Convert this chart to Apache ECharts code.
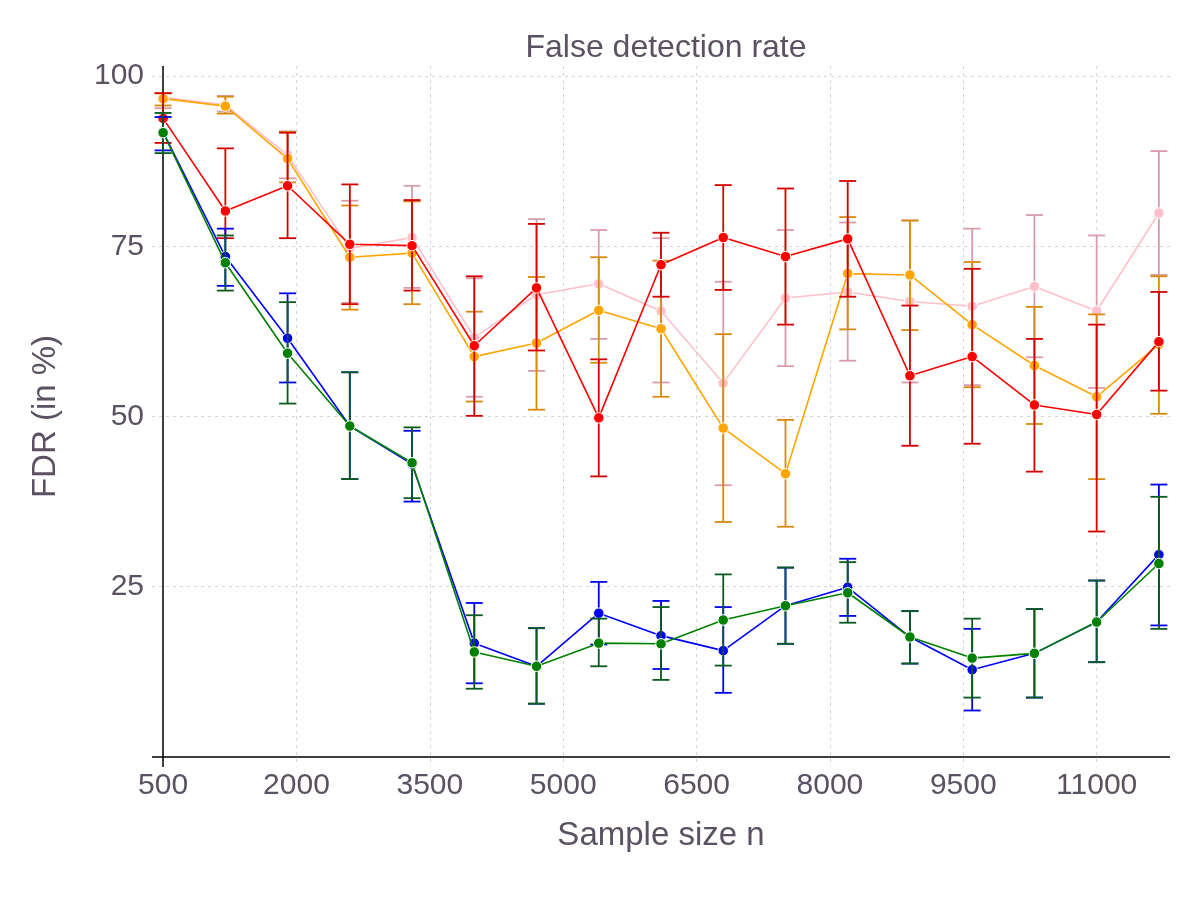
<!DOCTYPE html>
<html>
<head>
<meta charset="utf-8">
<title>False detection rate</title>
<script src="https://cdn.jsdelivr.net/npm/echarts@6/dist/echarts.min.js"></script>
<style>
  html, body { margin: 0; padding: 0; background: #fff; }
  #chart { width: 1200px; height: 900px; }
</style>
</head>
<body>
<div id="chart"></div>
<script>
// sample sizes on the x axis
const sampleSizes = [500, 1200, 1900, 2600, 3300, 4000, 4700, 5400, 6100, 6800, 7500, 8200, 8900, 9600, 10300, 11000, 11700];
const xTicks = [500, 2000, 3500, 5000, 6500, 8000, 9500, 11000];
const yTicks = [25, 50, 75, 100];

// FDR means and error bar ends (in %)
const blueMean = [91.8, 73.5, 61.5, 48.6, 43.0, 16.7, 13.3, 21.1, 17.8, 15.6, 22.2, 24.9, 17.6, 12.8, 15.2, 19.8, 29.7];
const blueLow  = [89.1, 69.2, 55.0, 40.8, 37.5, 10.8, 7.8, 16.5, 12.9, 9.4, 16.6, 20.7, 13.7, 6.8, 8.7, 13.9, 19.3];
const blueHigh = [94.0, 77.6, 68.1, 56.5, 47.9, 22.6, 18.9, 25.7, 22.9, 22.0, 27.8, 29.1, 21.4, 18.8, 21.7, 25.9, 40.0];

const greenMean = [91.7, 72.6, 59.3, 48.6, 43.2, 15.4, 13.3, 16.7, 16.6, 20.1, 22.2, 24.1, 17.6, 14.5, 15.2, 19.8, 28.4];
const greenLow  = [88.7, 68.5, 51.9, 40.8, 38.0, 10.0, 7.8, 13.3, 11.3, 13.4, 16.6, 19.7, 13.7, 8.7, 8.7, 13.9, 18.8];
const greenHigh = [94.6, 76.6, 66.8, 56.5, 48.4, 20.8, 18.9, 20.3, 22.0, 26.8, 27.8, 28.6, 21.4, 20.3, 21.7, 25.9, 38.2];

const redMean = [93.8, 80.2, 83.9, 75.3, 75.1, 60.4, 68.9, 49.8, 72.3, 76.3, 73.5, 76.1, 56.0, 58.8, 51.7, 50.3, 61.0];
const redLow  = [90.2, 76.2, 76.2, 66.5, 68.5, 50.1, 59.7, 41.2, 67.6, 68.6, 63.5, 67.6, 45.7, 46.0, 41.9, 33.1, 53.8];
const redHigh = [97.5, 89.4, 91.7, 84.1, 81.8, 70.6, 78.3, 58.4, 77.0, 84.0, 83.5, 84.6, 66.3, 71.7, 61.4, 63.5, 68.3];

const orangeMean = [96.7, 95.6, 87.9, 73.4, 74.0, 58.8, 60.8, 65.6, 62.9, 48.3, 41.6, 71.0, 70.8, 63.5, 57.5, 52.9, 60.6];
const orangeLow  = [95.7, 94.5, 84.4, 65.7, 66.5, 52.2, 51.0, 57.9, 52.9, 34.5, 33.8, 62.8, 62.7, 54.3, 48.9, 40.8, 50.4];
const orangeHigh = [97.5, 97.0, 91.8, 81.0, 81.6, 65.4, 70.5, 73.4, 72.9, 62.1, 49.5, 79.3, 78.8, 72.7, 66.1, 65.0, 70.6];

const pinkMean = [96.9, 95.8, 88.4, 74.7, 76.3, 61.6, 67.9, 69.5, 65.5, 54.9, 67.4, 68.3, 66.9, 66.2, 69.1, 65.5, 79.9];
const pinkLow  = [95.3, 94.8, 85.0, 66.7, 68.9, 52.9, 56.7, 61.4, 55.0, 39.9, 57.4, 58.2, 55.0, 54.6, 58.7, 54.2, 70.8];
const pinkHigh = [97.5, 97.1, 91.9, 81.7, 83.9, 70.3, 79.0, 77.4, 76.2, 69.8, 77.4, 78.5, 78.8, 77.6, 79.6, 76.6, 89.0];

const textColor = '#5a5262';
const fontFamily = '"Liberation Sans", Arial, Helvetica, sans-serif';

const myChart = echarts.init(document.getElementById('chart'));

// whisker with caps, drawn through the axes
function errorBars(color) {
  return function (params, api) {
    const x = api.value(0);
    const top = api.coord([x, api.value(2)]);
    const bot = api.coord([x, api.value(1)]);
    const hw = 8.5;
    const style = { stroke: color, lineWidth: 1.8 };
    return {
      type: 'group',
      children: [
        { type: 'line', shape: { x1: top[0], y1: top[1], x2: bot[0], y2: bot[1] }, style },
        { type: 'line', shape: { x1: top[0] - hw, y1: top[1], x2: top[0] + hw, y2: top[1] }, style },
        { type: 'line', shape: { x1: bot[0] - hw, y1: bot[1], x2: bot[0] + hw, y2: bot[1] }, style }
      ]
    };
  };
}

function makeSeries(name, mean, low, high, lineColor, barColor, z) {
  return [
    {
      name: name + ' error',
      type: 'custom',
      renderItem: errorBars(barColor),
      data: sampleSizes.map((n, i) => [n, low[i], high[i]]),
      z: z,
      silent: true
    },
    {
      name: name,
      type: 'line',
      data: sampleSizes.map((n, i) => [n, mean[i]]),
      symbol: 'circle',
      symbolSize: 10.5,
      lineStyle: { color: lineColor, width: 1.6 },
      itemStyle: { color: lineColor, borderColor: '#fff', borderWidth: 1 },
      z: z + 1
    }
  ];
}

const options = {
  animation: false,
  backgroundColor: '#fff',
  title: {
    text: 'False detection rate',
    left: 661,
    textAlign: 'center',
    top: 27,
    textStyle: { color: textColor, fontSize: 32, fontWeight: 'normal', fontFamily }
  },
  grid: { left: 152, right: 30, top: 66, bottom: 133 },
  xAxis: {
    type: 'value',
    min: 375,
    max: 11825,
    name: 'Sample size n',
    nameLocation: 'middle',
    nameGap: 52,
    nameTextStyle: { color: textColor, fontSize: 33, fontFamily },
    axisLine: { show: false },
    axisTick: { show: false, customValues: xTicks },
    axisLabel: { customValues: xTicks, formatter: v => String(v), color: textColor, fontSize: 30, fontFamily, margin: 4 },
    splitLine: { show: true, lineStyle: { color: '#d4d2dc', type: [3, 4], width: 1 } }
  },
  yAxis: {
    type: 'value',
    min: -1.5,
    max: 101.5,
    name: 'FDR (in %)',
    nameLocation: 'middle',
    nameGap: 90,
    nameTextStyle: { color: textColor, fontSize: 33, fontFamily },
    axisLine: { show: false },
    axisTick: { show: false, customValues: yTicks },
    axisLabel: { customValues: yTicks, formatter: v => String(v), color: textColor, fontSize: 30, fontFamily, margin: 8 },
    splitLine: { show: true, lineStyle: { color: '#d4d2dc', type: [3, 4], width: 1 } }
  },
  series: [
    {
      // axis lines through n = 500 and FDR = 0
      type: 'line',
      data: [],
      z: 1,
      markLine: {
        silent: true,
        symbol: 'none',
        label: { show: false },
        lineStyle: { color: '#000', type: 'solid', width: 1.5 },
        data: [{ xAxis: 500 }, { yAxis: 0 }]
      }
    },
    ...makeSeries('pink', pinkMean, pinkLow, pinkHigh, '#ffc0cb', '#d89cab', 2),
    ...makeSeries('orange', orangeMean, orangeLow, orangeHigh, '#ffa500', '#d88a0c', 4),
    ...makeSeries('red', redMean, redLow, redHigh, '#ff0000', '#d40000', 6),
    ...makeSeries('blue', blueMean, blueLow, blueHigh, '#0000ff', '#0000ee', 8),
    ...makeSeries('green', greenMean, greenLow, greenHigh, '#008000', '#0b5a1e', 10)
  ]
};

myChart.setOption(options);
</script>
</body>
</html>
